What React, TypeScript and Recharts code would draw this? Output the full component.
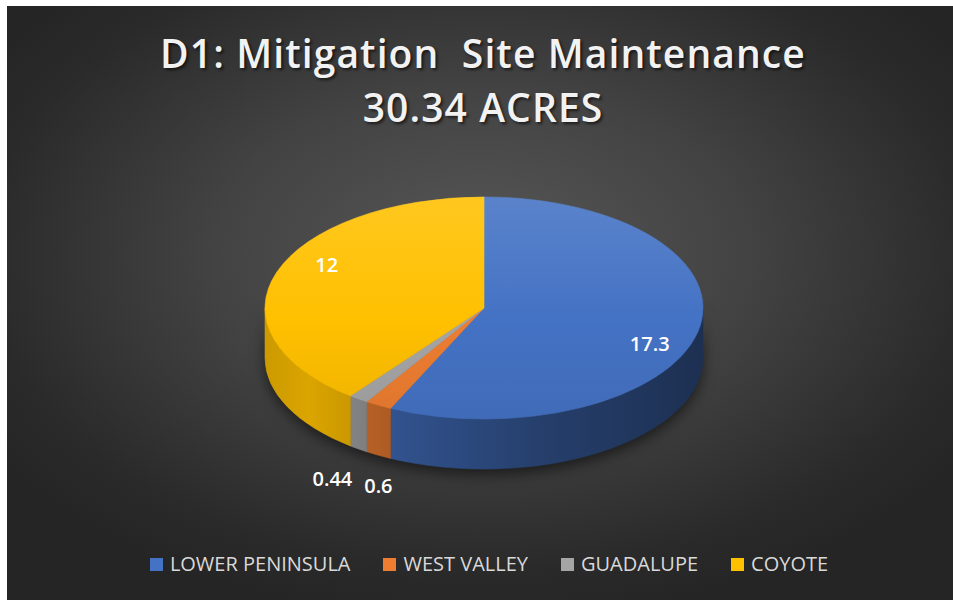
import React from 'react';
import { PieChart, Pie, Cell, Legend } from 'recharts';

// Site names, acres, shown labels
const categories = ['LOWER PENINSULA', 'WEST VALLEY', 'GUADALUPE', 'COYOTE'];
const acres = [17.3, 0.6, 0.44, 12];
const valueLabels = ['17.3', '0.6', '0.44', '12'];
const titleLines = ['D1: Mitigation\u00a0\u00a0Site Maintenance', '30.34 ACRES'];

const colors = ['#4472C4', '#ED7D31', '#A5A5A5', '#FFC000'];

const WIDTH = 946;
const HEIGHT = 594;
const CX = 477;
const CY = 302;
const RADIUS = 219;
const TILT = 0.507; // vertical squash of the top face
const DEPTH = 50; // thickness of the 3D slab
const RAD = Math.PI / 180;
const FONT = '"Open Sans", "Noto Sans", sans-serif';

const pieData = categories.map((name, i) => ({ name, value: acres[i], label: valueLabels[i] }));

const rgb = (hex: string) => {
  const n = parseInt(hex.slice(1), 16);
  return [(n >> 16) & 255, (n >> 8) & 255, n & 255];
};
const shade = (hex: string, f: number) => {
  const [r, g, b] = rgb(hex);
  return `rgb(${Math.round(r * f)},${Math.round(g * f)},${Math.round(b * f)})`;
};
const tint = (hex: string, f: number) => {
  const [r, g, b] = rgb(hex);
  const m = (c: number) => Math.round(c + (255 - c) * f);
  return `rgb(${m(r)},${m(g)},${m(b)})`;
};

// point on the tilted ellipse for a recharts angle (degrees, ccw, y up)
const pt = (cx: number, cy: number, rx: number, a: number): [number, number] => [
  cx + rx * Math.cos(a * RAD),
  cy - rx * TILT * Math.sin(a * RAD),
];

function SideShape(props: any) {
  const { cx, cy, outerRadius, startAngle, endAngle, payload } = props;
  const i = categories.indexOf(payload.name);
  const rx = outerRadius;
  const ry = outerRadius * TILT;
  const lo = Math.min(startAngle, endAngle);
  const hi = Math.max(startAngle, endAngle);
  const segs: [number, number][] = [];
  [-720, -360, 0, 360].forEach((k) => {
    const a = Math.max(lo, -180 + k);
    const b = Math.min(hi, k);
    if (b > a) segs.push([a, b]);
  });
  const gid = `side-grad-${i}`;
  const base = colors[i];
  return (
    <g>
      <defs>
        <linearGradient id={gid} gradientUnits="userSpaceOnUse" x1={cx - rx} y1={0} x2={cx + rx} y2={0}>
          <stop offset="0%" stopColor={shade(base, 0.8)} />
          <stop offset="10%" stopColor={shade(base, 0.86)} />
          <stop offset="30%" stopColor={shade(base, 0.72)} />
          <stop offset="65%" stopColor={shade(base, 0.54)} />
          <stop offset="100%" stopColor={shade(base, 0.42)} />
        </linearGradient>
      </defs>
      {segs.map(([a, b], k) => {
        const [x0, y0] = pt(cx, cy, rx, a);
        const [x1, y1] = pt(cx, cy, rx, b);
        const d = `M${x0},${y0} A${rx},${ry} 0 0 0 ${x1},${y1} L${x1},${y1 + DEPTH} A${rx},${ry} 0 0 1 ${x0},${y0 + DEPTH} Z`;
        return <path key={k} d={d} fill={`url(#${gid})`} stroke={`url(#${gid})`} strokeWidth={0.6} />;
      })}
    </g>
  );
}

function TopShape(props: any) {
  const { cx, cy, outerRadius, startAngle, endAngle, payload } = props;
  const i = categories.indexOf(payload.name);
  const rx = outerRadius;
  const ry = outerRadius * TILT;
  const [x0, y0] = pt(cx, cy, rx, startAngle);
  const [x1, y1] = pt(cx, cy, rx, endAngle);
  const large = Math.abs(endAngle - startAngle) > 180 ? 1 : 0;
  const sweep = endAngle < startAngle ? 1 : 0;
  const d = `M${cx},${cy} L${x0},${y0} A${rx},${ry} 0 ${large} ${sweep} ${x1},${y1} Z`;
  const gid = `top-grad-${i}`;
  const base = colors[i];
  return (
    <g>
      <defs>
        <linearGradient id={gid} gradientUnits="userSpaceOnUse" x1={0} y1={cy - ry} x2={0} y2={cy + ry}>
          <stop offset="0%" stopColor={tint(base, 0.12)} />
          <stop offset="55%" stopColor={base} />
          <stop offset="100%" stopColor={shade(base, 0.94)} />
        </linearGradient>
      </defs>
      <path d={d} fill={`url(#${gid})`} stroke={`url(#${gid})`} strokeWidth={0.6} />
    </g>
  );
}

const LABEL_SIZE = 20;
const textWidth = (s: string) =>
  s.split('').reduce((w, c) => w + (c === '.' ? 0.27 : 0.572), 0) * LABEL_SIZE;

// left edges of outside labels, to keep neighbours from overlapping
const outsideLeft: Record<number, number> = {};

function renderLabel(props: any) {
  const { cx, cy, midAngle, outerRadius, percent, index, payload } = props;
  const text = payload.label ?? String(payload.value);
  const rx = outerRadius;
  const ry = outerRadius * TILT;
  let x: number;
  let y: number;
  if (percent < 0.05) {
    const [px, py] = pt(cx, cy, rx, midAngle);
    const w = textWidth(text);
    x = px;
    y = py + DEPTH + 30;
    const prev = outsideLeft[index - 1];
    if (prev !== undefined && x + w / 2 > prev - 12) x = prev - 12 - w / 2;
    outsideLeft[index] = x - w / 2;
  } else {
    const a = (midAngle - 10) * RAD;
    x = cx + 0.82 * rx * Math.cos(a);
    y = cy - 0.82 * ry * Math.sin(a);
  }
  return (
    <text
      key={`lbl-${index}`}
      x={x}
      y={y}
      fill="#ffffff"
      textAnchor="middle"
      dominantBaseline="central"
      style={{ fontFamily: FONT, fontSize: LABEL_SIZE, fontWeight: 600 }}
    >
      {text}
    </text>
  );
}

function LegendContent({ payload }: any) {
  const seen = new Set<string>();
  const items = (payload || [])
    .filter((p: any) => {
      if (p.type === 'none' || seen.has(p.value)) return false;
      seen.add(p.value);
      return true;
    })
    .sort((a: any, b: any) => categories.indexOf(a.value) - categories.indexOf(b.value));
  return (
    <div style={{ display: 'flex', justifyContent: 'center', gap: 33, paddingLeft: 18 }}>
      {items.map((p: any) => (
        <div key={p.value} style={{ display: 'flex', alignItems: 'center' }}>
          <span style={{ width: 13, height: 13, background: p.color, marginRight: 7, display: 'inline-block' }} />
          <span style={{ fontFamily: FONT, fontSize: 20, color: '#d9d9d9', lineHeight: '24px' }}>{p.value}</span>
        </div>
      ))}
    </div>
  );
}

export default function App() {
  return (
    <div style={{ width: 953, height: 600, background: '#ffffff', position: 'relative', overflow: 'hidden' }}>
      <style>{`
        body { margin: 0; }
        .pie-sides { filter: drop-shadow(0px 5px 7px rgba(0,0,0,0.55)); }
      `}</style>
      <div
        style={{
          position: 'absolute',
          left: 7,
          top: 6,
          width: WIDTH,
          height: HEIGHT,
          background: 'radial-gradient(ellipse 62% 62% at 50% 42%, #575757 0%, #434343 45%, #2a2a2a 85%, #252525 100%)',
        }}
      >
        <div
          style={{
            position: 'absolute',
            top: 20,
            left: 3,
            width: WIDTH,
            textAlign: 'center',
            fontFamily: FONT,
            fontWeight: 600,
            fontSize: 39,
            lineHeight: '54px',
            letterSpacing: 1.1,
            color: '#f2f2f2',
            textShadow: '2px 2px 3px rgba(0,0,0,0.6)',
            zIndex: 2,
          }}
        >
          {titleLines.map((t) => (
            <div key={t}>{t}</div>
          ))}
        </div>
        <PieChart width={WIDTH} height={HEIGHT} margin={{ top: 0, right: 0, bottom: 0, left: 0 }}>
          <Pie
            className="pie-sides"
            data={pieData}
            dataKey="value"
            nameKey="name"
            cx={CX}
            cy={CY}
            outerRadius={RADIUS}
            startAngle={90}
            endAngle={-270}
            stroke="none"
            legendType="none"
            isAnimationActive={false}
            shape={SideShape}
          >
            {pieData.map((d, i) => (
              <Cell key={d.name} fill={colors[i]} />
            ))}
          </Pie>
          <Pie
            data={pieData}
            dataKey="value"
            nameKey="name"
            cx={CX}
            cy={CY}
            outerRadius={RADIUS}
            startAngle={90}
            endAngle={-270}
            stroke="none"
            legendType="square"
            isAnimationActive={false}
            shape={TopShape}
            label={renderLabel}
            labelLine={false}
          >
            {pieData.map((d, i) => (
              <Cell key={d.name} fill={colors[i]} />
            ))}
          </Pie>
          <Legend
            verticalAlign="bottom"
            content={<LegendContent />}
            wrapperStyle={{ top: 546, bottom: 'auto', left: 0, width: WIDTH }}
          />
        </PieChart>
      </div>
    </div>
  );
}
